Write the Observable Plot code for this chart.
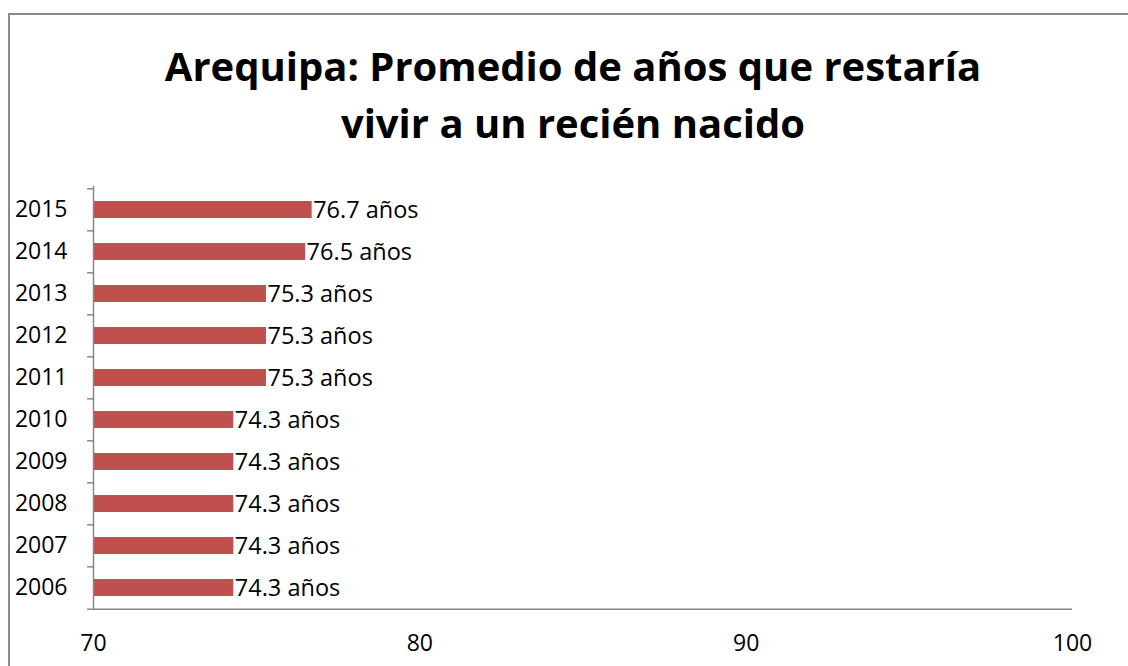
<!DOCTYPE html>
<html>
<head>
<meta charset="utf-8">
<script src="https://cdn.jsdelivr.net/npm/d3@7"></script>
<script src="https://cdn.jsdelivr.net/npm/@observablehq/plot@0.6"></script>
<style>
  html, body { margin: 0; padding: 0; background: #fff; width: 1128px; height: 666px; overflow: hidden; }
  #box { position: absolute; left: 8px; top: 13px; width: 1130px; height: 700px; border: 2px solid #8c8c8c; box-sizing: border-box; background: #fff; }
  #title { position: absolute; left: 8px; top: 37px; width: 1130px; text-align: center; font-family: "Open Sans", sans-serif; font-weight: bold; font-size: 40px; line-height: 57px; color: #000; }
  #chart { position: absolute; left: 0; top: 150px; }
</style>
</head>
<body>
<div id="box"></div>
<div id="title">Arequipa: Promedio de años que restaría<br>vivir a un recién nacido</div>
<div id="chart"></div>
<script>
const years = ["2006","2007","2008","2009","2010","2011","2012","2013","2014","2015"];
const values = [74.3, 74.3, 74.3, 74.3, 74.3, 75.3, 75.3, 75.3, 76.5, 76.7];
const xTicks = [70, 80, 90, 100];
const unit = "años";

const data = years.map((y, i) => ({year: y, value: values[i], label: values[i].toFixed(1) + " " + unit}));

const W = 1128, H = 516, mT = 36, mB = 56, mL = 93, mR = 56;
const step = (H - mT - mB) / years.length;
const tickLen = 0.18;

const plot = Plot.plot({
  width: W, height: H,
  marginTop: mT, marginBottom: mB, marginLeft: mL, marginRight: mR,
  style: {fontFamily: "'Open Sans', sans-serif", fontSize: "23px", color: "#000", background: "transparent"},
  x: {domain: [70, 100], ticks: xTicks, tickSize: 0, tickPadding: 24, label: null},
  y: {domain: years.slice().reverse(), paddingInner: 0.6, paddingOuter: 0.3, tickSize: 0, tickPadding: 26, label: null},
  marks: [
    Plot.barX(data, {y: "year", x1: () => 70, x2: "value", fill: "#C0504D"}),
    Plot.ruleX([70], {stroke: "#888", strokeWidth: 1.5}),
    Plot.ruleY(years, {y: d => d, x1: () => 70 - tickLen, x2: () => 70, dy: -step / 2, stroke: "#888", strokeWidth: 1.5}),
    Plot.ruleY([years[0]], {y: d => d, x1: () => 70 - tickLen, x2: () => 100, dy: step / 2, stroke: "#888", strokeWidth: 1.5}),
    Plot.text(data, {y: "year", x: "value", text: "label", textAnchor: "start", dx: 1, fill: "#000", fontSize: 23.5}),
    Plot.axisX({ticks: xTicks, tickSize: 0, tickPadding: 24, fontSize: 23}),
    Plot.axisY({tickSize: 0, tickPadding: 26, fontSize: 23})
  ]
});
document.getElementById("chart").appendChild(plot);
</script>
</body>
</html>
